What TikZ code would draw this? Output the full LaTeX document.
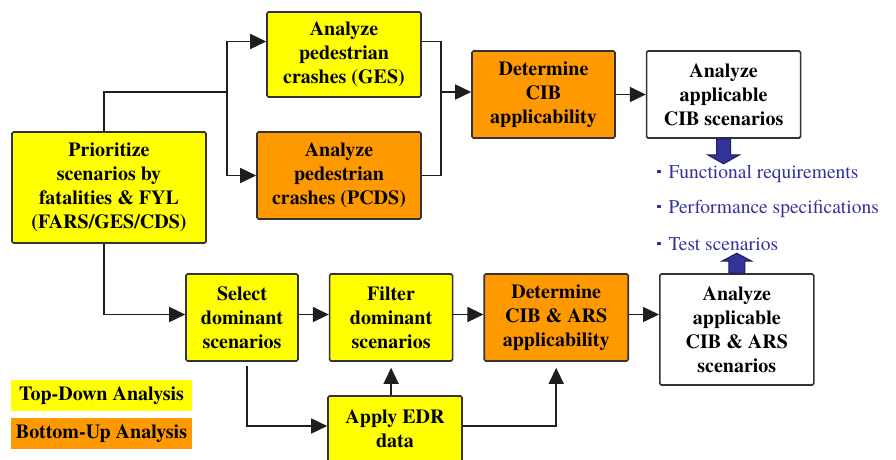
\documentclass[tikz,border=0pt]{standalone}
\usepackage{fontspec}
\IfFontExistsTF{TeX Gyre Termes}
  {\newfontfamily\timesface{TeX Gyre Termes}}
  {\newfontfamily\timesface{Latin Modern Roman}}
\usepackage{tikz}
\usetikzlibrary{arrows.meta, positioning}
\usepackage{xcolor}
\definecolor{tdyellow}{RGB}{255,255,0}
\definecolor{buorange}{RGB}{255,153,0}
\definecolor{boxline}{RGB}{51,51,51}
\definecolor{flowline}{RGB}{30,30,30}
\definecolor{navyfill}{RGB}{51,51,153}
\definecolor{navyedge}{RGB}{30,30,90}
\definecolor{itemblue}{RGB}{51,51,160}
\newcommand{\boxfont}{\timesface\fontsize{20}{24}\selectfont\bfseries}
\newcommand{\itemfont}{\timesface\fontsize{19.5}{24}\selectfont}
\newcommand{\legendfont}{\timesface\fontsize{20}{22}\selectfont\bfseries}
\newcommand{\itembullet}{\rule[5pt]{3.5pt}{3.5pt}\hspace{8pt}}
\tikzset{
    stepbox/.style={draw=boxline, line width=1.6pt, rounded corners=1.5pt, align=center, font=\boxfont, inner sep=2pt},
    topdown/.style={stepbox, fill=tdyellow},
    bottomup/.style={stepbox, fill=buorange},
    result/.style={stepbox, fill=white},
    link/.style={line width=1.6pt, flowline},
    arrow/.style={link, -{Triangle[length=16pt, width=15pt]}},
    blockarrow/.style={fill=navyfill, draw=navyedge, line width=1pt},
    item/.style={anchor=base west, text=itemblue, font=\itemfont, inner sep=0pt},
    legend/.style={minimum width=181pt, minimum height=31pt, font=\legendfont, inner sep=0pt},
}

\begin{document}
\begin{tikzpicture}[x=1pt, y=-1pt]
    \clip (0,0) rectangle (896,459);
    \fill[white] (0,0) rectangle (896,459);

    % top-down branch
    \node[topdown, minimum width=194pt, minimum height=111pt] (prio) at (109,187.5) {Prioritize\\scenarios by\\fatalities \& FYL\\(FARS/GES/CDS)};
    \node[topdown, minimum width=154pt, minimum height=85pt] (ges) at (344,54.5) {Analyze\\pedestrian\\crashes (GES)};
    \node[bottomup, minimum width=164pt, minimum height=87pt] (pcds) at (339,175.5) {Analyze\\pedestrian\\crashes (PCDS)};
    \node[bottomup, minimum width=143pt, minimum height=87pt] (detcib) at (543.5,94.5) {Determine\\CIB\\applicability};
    \node[result, minimum width=154pt, minimum height=87pt, right=30pt of detcib] (anacib) {Analyze\\applicable\\CIB scenarios};

    % bottom row
    \node[topdown, minimum width=112pt, minimum height=87pt] (select) at (242,317.5) {Select\\dominant\\scenarios};
    \node[topdown, minimum width=123pt, minimum height=87pt, right=30pt of select] (filter) {Filter\\dominant\\scenarios};
    \node[bottomup, minimum width=144pt, minimum height=87pt, right=30pt of filter] (detars) {Determine\\CIB \& ARS\\applicability};
    \node[result, minimum width=154pt, minimum height=111pt, right=30pt of detars.north east, anchor=north west] (anaars) {Analyze\\applicable\\CIB \& ARS\\scenarios};
    \node[topdown, minimum width=134pt, minimum height=66pt] (edr) at (395,429) {Apply EDR\\data};

    % outputs
    \node[item] (req1) at (657,178) {\itembullet Functional requirements};
    \node[item] (req2) at (657,213) {\itembullet Performance specifications};
    \node[item] (req3) at (657,250) {\itembullet Test scenarios};

    % legend
    \node[legend, fill=tdyellow] (tdkey) at (101.5,395.5) {Top-Down Analysis};
    \node[legend, fill=buorange, below=7pt of tdkey] (bukey) {Bottom-Up Analysis};

    \coordinate (fork) at (227,92);
    \coordinate (join) at (441,92);
    \draw[link] ([xshift=-5pt]prio.north) |- (fork);
    \draw[arrow] (fork) |- ([yshift=13pt]ges.west);
    \draw[arrow] (fork) |- (pcds.west);
    \draw[link] ([yshift=13pt]ges.east) -| (join) |- (pcds.east);
    \draw[arrow] (join) -- (join -| detcib.west);
    \draw[arrow] (detcib) -- (anacib);

    \draw[arrow] ([xshift=-5pt]prio.south) |- ([yshift=3pt]select.west);
    \draw[arrow] ([yshift=3pt]select.east) -- ([yshift=3pt]filter.west);
    \draw[arrow] ([yshift=3pt]filter.east) -- ([yshift=3pt]detars.west);
    \draw[arrow] ([yshift=3pt]detars.east) -- ([yshift=3pt]detars.east -| anaars.west);
    \draw[arrow] ([xshift=5pt, yshift=-4pt]select.south) |- ([yshift=3pt]edr.west);
    \draw[arrow] (edr.north -| filter.south) -- ([yshift=-6pt]filter.south);
    \draw[arrow] ([yshift=3pt]edr.east) -| ([yshift=-6pt]detars.south);

    \filldraw[blockarrow] ([xshift=-7pt]anacib.south) -- ++(14,0) -- ++(0,16) -- ++(9,0) -- ++(-16,9) -- ++(-16,-9) -- ++(9,0) -- cycle;
    \filldraw[blockarrow] ([xshift=-8pt]anaars.north) -- ++(0,-12) -- ++(-7,0) -- ++(15,-8) -- ++(15,8) -- ++(-7,0) -- ++(0,12) -- cycle;
\end{tikzpicture}
\end{document}
